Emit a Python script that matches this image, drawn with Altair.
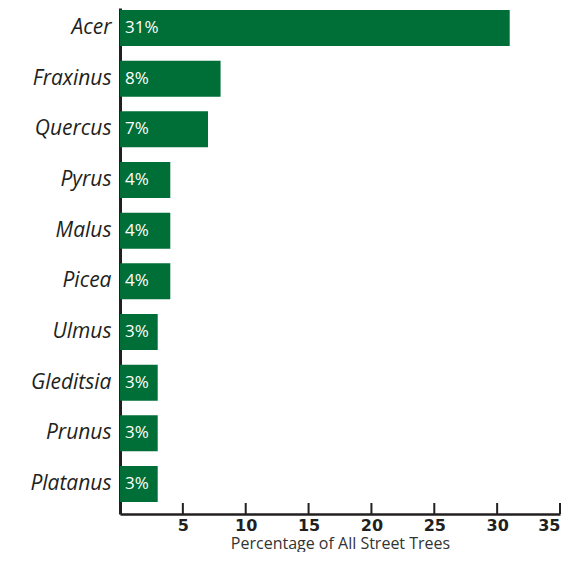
import altair as alt
import pandas as pd

genera = ["Acer", "Fraxinus", "Quercus", "Pyrus", "Malus", "Picea", "Ulmus", "Gleditsia", "Prunus", "Platanus"]
percent = [31, 8, 7, 4, 4, 4, 3, 3, 3, 3]
x_ticks = [5, 10, 15, 20, 25, 30, 35]

df = pd.DataFrame({"genus": genera, "pct": percent})
df["label"] = df["pct"].astype(str) + "%"
ticks_df = pd.DataFrame({"t": x_ticks})

xscale = alt.Scale(domain=[0, 35], nice=False)

y_enc = alt.Y("genus:N", sort=genera,
              scale=alt.Scale(paddingInner=0.29, paddingOuter=0.138, align=0.143),
              axis=alt.Axis(title=None, ticks=False, labelFont="Open Sans", labelFontStyle="italic",
                            labelFontSize=21, labelColor="#231f20", labelPadding=9,
                            domainColor="#231f20", domainWidth=3, labelLimit=200))

bars = alt.Chart(df).mark_bar(color="#006e37").encode(
    x=alt.X("pct:Q", scale=xscale,
            axis=alt.Axis(values=x_ticks, title="Percentage of All Street Trees",
                          titleFont="Open Sans", titleFontSize=16, titleFontWeight="normal",
                          titleColor="#333333", titlePadding=0, titleBaseline="bottom",
                          titleY=37,
                          labelFont="DejaVu Sans", labelFontWeight="bold", labelFontSize=16,
                          labelColor="#231f20", labelPadding=3, ticks=False,
                          domainColor="#231f20", domainWidth=2.5, grid=False)),
    y=y_enc,
)

tick_marks = alt.Chart(ticks_df).mark_rule(color="#231f20", strokeWidth=2).encode(
    x=alt.X("t:Q", scale=xscale),
    y=alt.value(495),
    y2=alt.value(506),
)

text = alt.Chart(df).mark_text(align="left", baseline="middle", dx=5, color="white",
                               font="Open Sans", fontSize=17).encode(
    x=alt.datum(0),
    y=alt.Y("genus:N", sort=genera),
    text="label:N",
)

chart = (bars + tick_marks + text).properties(
    width=440, height=506,
    autosize=alt.AutoSizeParams(type="none"),
    padding={"left": 112, "top": 0, "right": 4, "bottom": 38},
).configure_view(stroke=None).configure_axis(labelOverlap=False)

chart.save("out.html", embed_options={"renderer": "svg", "actions": False})
